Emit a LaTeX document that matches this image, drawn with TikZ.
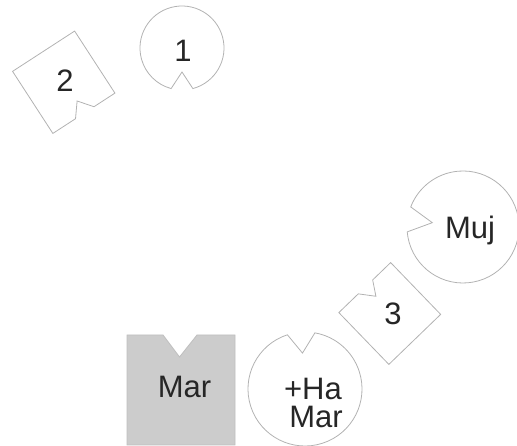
\documentclass[tikz,border=0pt]{standalone}
\usepackage{fontspec}
\setmainfont{Liberation Sans}
\begin{document}
\begin{tikzpicture}[x=1pt,y=1pt,
  outline/.style={draw=black!30, line width=0.8pt, line join=miter},
  darkfill/.style={draw=black!25, fill=black!20, line width=0.8pt},
  lbl/.style={anchor=base, inner sep=0pt, text=black!85, font=\fontsize{31}{28}\selectfont}]
\useasboundingbox (0,0) rectangle (517,446);
% circle 1
\draw[outline, shift={(182,398)}, rotate=-90] (15:42pt) arc[start angle=15, end angle=345, radius=42pt] -- (24pt,0) -- cycle;
% square 2
\draw[outline, shift={(63.75,363.75)}, rotate=33] (-37pt,-37pt) -- (-10pt,-37pt) -- (1pt,-23pt) -- (12pt,-37pt) -- (37pt,-37pt) -- (37pt,37pt) -- (-37pt,37pt) -- cycle;
% circle Muj
\draw[outline, shift={(463,219)}, rotate=172] (13:56pt) arc[start angle=13, end angle=347, radius=56pt] -- (31pt,0) -- cycle;
% square 3
\draw[outline, shift={(389.75,132.5)}, rotate=44] (-36pt,-36pt) -- (36pt,-36pt) -- (36pt,36pt) -- (11pt,36pt) -- (2pt,22pt) -- (-9pt,36pt) -- (-36pt,36pt) -- cycle;
% gray square Mar
\draw[darkfill] (127,1) -- (235,1) -- (235,111) -- (197,111) -- (179.5,89) -- (163,111) -- (127,111) -- cycle;
% circle +Ha Mar
\draw[outline, shift={(305,57)}, rotate=94] (14:57pt) arc[start angle=14, end angle=346, radius=57pt] -- (36pt,0) -- cycle;
% labels
\node[lbl] (one) at (183,384) {1};
\node[lbl] (two) at (65,354) {2};
\node[lbl] (muj) at (470,207) {Muj};
\node[lbl] (three) at (393,121) {3};
\node[lbl] (mar) at (184.5,48) {Mar};
\node[lbl] (ha) at (313,46) {+Ha};
\node[lbl] (mar2) at (316,18) {Mar};
\end{tikzpicture}
\end{document}
